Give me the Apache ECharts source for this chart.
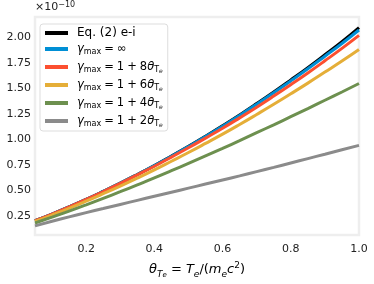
<!DOCTYPE html>
<html><head><meta charset="utf-8">
<script src="https://cdn.jsdelivr.net/npm/echarts@6/dist/echarts.min.js"></script>
<style>html,body{margin:0;padding:0;background:#fff}#c{width:374px;height:284px}</style>
</head><body><div id="c"></div>
<script>
const theta = [0.05,0.10,0.15,0.20,0.25,0.30,0.35,0.40,0.45,0.50,0.55,0.60,0.65,0.70,0.75,0.80,0.85,0.90,0.95,1.00];
const eqEI   = [0.200,0.266,0.336,0.410,0.488,0.569,0.654,0.742,0.835,0.930,1.029,1.132,1.239,1.350,1.464,1.582,1.703,1.829,1.957,2.095];
const gInf   = [0.200,0.266,0.336,0.410,0.488,0.569,0.654,0.741,0.833,0.928,1.026,1.128,1.234,1.344,1.457,1.573,1.692,1.815,1.940,2.072];
const g8     = [0.200,0.266,0.336,0.409,0.487,0.567,0.650,0.735,0.825,0.916,1.011,1.108,1.210,1.315,1.424,1.536,1.651,1.770,1.892,2.020];
const g6     = [0.193,0.256,0.322,0.392,0.465,0.540,0.618,0.699,0.784,0.870,0.959,1.050,1.145,1.243,1.343,1.446,1.551,1.659,1.768,1.881];
const g4     = [0.178,0.235,0.294,0.356,0.420,0.485,0.552,0.620,0.691,0.763,0.836,0.910,0.986,1.064,1.142,1.221,1.301,1.383,1.464,1.547];
const g2     = [0.150,0.195,0.238,0.280,0.320,0.360,0.400,0.440,0.480,0.520,0.560,0.600,0.640,0.682,0.724,0.767,0.810,0.853,0.897,0.940];
const seriesNames = ['Eq. (2) e-i','γmax=∞','γmax=1+8θ','γmax=1+6θ','γmax=1+4θ','γmax=1+2θ'];
const seriesData = [eqEI,gInf,g8,g6,g4,g2];
const colors = ['#000000','#008fd5','#fc4f30','#e5ae38','#6d904f','#8b8b8b'];
const xTicks = [0.2,0.4,0.6,0.8,1.0];
const yTicks = [0.25,0.50,0.75,1.00,1.25,1.50,1.75,2.00];

const cut = k => '{i|γ}{s|max}{o|=}{n|1}{o|+}{n|' + k + '}{i|θ}{s|T}{ss|e}';
const legendText = {
  'Eq. (2) e-i': '{e|Eq. (2) e-i}',
  'γmax=∞': '{i|γ}{s|max}{o|=}{n|∞}',
  'γmax=1+8θ': cut(8),
  'γmax=1+6θ': cut(6),
  'γmax=1+4θ': cut(4),
  'γmax=1+2θ': cut(2)
};
const F = 'DejaVu Sans';
const chart = echarts.init(document.getElementById('c'), null, {renderer:'canvas'});
chart.setOption({
  animation:false,
  color: colors,
  grid:{left:35,right:15,top:17,bottom:42,show:true,borderColor:'#eeeeee',borderWidth:2.5,backgroundColor:'#fff'},
  legend:{
    orient:'vertical', left:40, top:24, padding:[3,5,3,5],
    backgroundColor:'rgba(255,255,255,0.8)', borderColor:'#dddddd', borderWidth:1, borderRadius:3,
    itemWidth:23, itemHeight:4, itemGap:4, icon:'rect',
    data: seriesNames,
    formatter: n => legendText[n],
    textStyle:{
      fontFamily:F, fontSize:11, color:'#000', padding:[0,0,0,4],
      rich:{
        e:{fontFamily:F,fontSize:12,color:'#000',lineHeight:14},
        n:{fontFamily:F,fontSize:11.5,color:'#000',lineHeight:14},
        o:{fontFamily:F,fontSize:11.5,color:'#000',lineHeight:14,padding:[0,3,0,3]},
        i:{fontFamily:F,fontSize:11.5,fontStyle:'italic',color:'#000',lineHeight:14},
        s:{fontFamily:F,fontSize:8,color:'#000',verticalAlign:'bottom',lineHeight:14,padding:[5,0,0,0]},
        ss:{fontFamily:F,fontSize:6,fontStyle:'italic',color:'#000',verticalAlign:'bottom',lineHeight:14,padding:[8,0,0,0]}
      }
    }
  },
  xAxis:{
    type:'value', min:0.05, max:1.0,
    name:'{i|θ}{s|T}{ss|e}{n| = }{i|T}{s|e}{n|/(}{i|m}{s|e}{i|c}{sup|2}{n|)}',
    nameLocation:'middle', nameGap:26,
    nameTextStyle:{
      fontFamily:F, fontSize:13, color:'#000',
      rich:{
        n:{fontFamily:F,fontSize:13,color:'#000',lineHeight:18},
        i:{fontFamily:F,fontSize:13,fontStyle:'italic',color:'#000',lineHeight:18},
        s:{fontFamily:F,fontSize:9,fontStyle:'italic',color:'#000',verticalAlign:'bottom',lineHeight:18,padding:[6,0,0,0]},
        ss:{fontFamily:F,fontSize:7,fontStyle:'italic',color:'#000',verticalAlign:'bottom',lineHeight:18,padding:[10,0,0,0]},
        sup:{fontFamily:F,fontSize:9,color:'#000',verticalAlign:'top',lineHeight:18,padding:[0,0,6,0]}
      }
    },
    splitLine:{show:false}, axisLine:{show:false}, axisTick:{show:false},
    axisLabel:{customValues:xTicks, fontFamily:F, fontSize:11, color:'#222', margin:9,
      formatter:v=>v.toFixed(1)}
  },
  yAxis:{
    type:'value', min:0.06, max:2.2,
    name:'×10{sup|−10}', nameLocation:'end', nameGap:3,
    nameTextStyle:{fontFamily:F,fontSize:11,color:'#222',align:'left',
      rich:{sup:{fontFamily:F,fontSize:8,color:'#222',verticalAlign:'top',padding:[0,0,5,0]}}},
    splitLine:{show:false}, axisLine:{show:false}, axisTick:{show:false},
    axisLabel:{customValues:yTicks, fontFamily:F, fontSize:11, color:'#222', margin:4,
      formatter:v=>v.toFixed(2)}
  },
  series: seriesNames.map((n,k)=>({
    name:n, type:'line', showSymbol:false, smooth:true,
    data: theta.map((x,i)=>[x, seriesData[k][i]]),
    lineStyle:{width:3, color:colors[k]}, itemStyle:{color:colors[k]}
  }))
});
</script></body></html>
